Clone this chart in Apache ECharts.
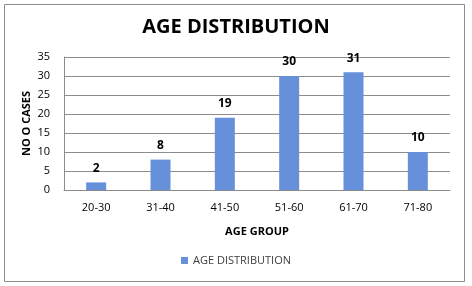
<!DOCTYPE html>
<html><head><meta charset="utf-8">
<script src="https://cdn.jsdelivr.net/npm/echarts@6/dist/echarts.min.js"></script>
<style>html,body{margin:0;padding:0;background:#fff}#c{width:472px;height:286px}</style>
</head><body><div id="c"></div>
<script>
const categories = ['20-30','31-40','41-50','51-60','61-70','71-80'];
const cases = [2, 8, 19, 30, 31, 10];
const yTicks = [0, 5, 10, 15, 20, 25, 30, 35];
const seriesName = 'AGE DISTRIBUTION';

const chart = echarts.init(document.getElementById('c'));
const font = '"Open Sans", "Liberation Sans", sans-serif';
chart.setOption({
  animation: false,
  backgroundColor: '#fff',
  graphic: [{type:'rect', shape:{x:4.5,y:4.5,width:460,height:277}, style:{fill:'none', stroke:'#8c8c8c', lineWidth:1}, silent:true}],
  title: {text: 'AGE DISTRIBUTION', left: 'center', top: 12,
    textStyle: {fontFamily: font, fontSize: 20, fontWeight: 'bold', color: '#000'}},
  legend: {bottom: 15, left: 'center', itemWidth: 7, itemHeight: 7, icon: 'rect',
    textStyle: {fontFamily: font, fontSize: 11, color: '#404040'}, data: [seriesName]},
  grid: {left: 64, right: 22, top: 57, bottom: 96},
  xAxis: {type: 'category', data: categories,
    name: 'AGE GROUP', nameLocation: 'middle', nameGap: 36, nameMoveOverlap: false,
    nameTextStyle: {fontFamily: font, fontSize: 11, fontWeight: 'bold', color: '#000'},
    axisLine: {lineStyle: {color: '#8c8c8c'}}, axisTick: {show: false},
    axisLabel: {fontFamily: font, fontSize: 11, color: '#000', margin: 12}},
  yAxis: {type: 'value', min: yTicks[0], max: yTicks[yTicks.length-1], interval: 5,
    name: 'NO O CASES', nameLocation: 'middle', nameGap: 32, nameRotate: 90, nameMoveOverlap: false,
    nameTextStyle: {fontFamily: font, fontSize: 11, fontWeight: 'bold', color: '#000'},
    axisLine: {show: true, lineStyle: {color: '#8c8c8c'}}, axisTick: {show: false},
    splitLine: {lineStyle: {color: '#8c8c8c'}},
    axisLabel: {fontFamily: font, fontSize: 11, color: '#000', margin: 14}},
  series: [{name: seriesName, type: 'bar', data: cases, barWidth: 20,
    itemStyle: {color: '#6690DA'},
    label: {show: true, position: 'top', distance: 8, fontFamily: font, fontSize: 12, fontWeight: 'bold', color: '#000'}}]
});
</script></body></html>
